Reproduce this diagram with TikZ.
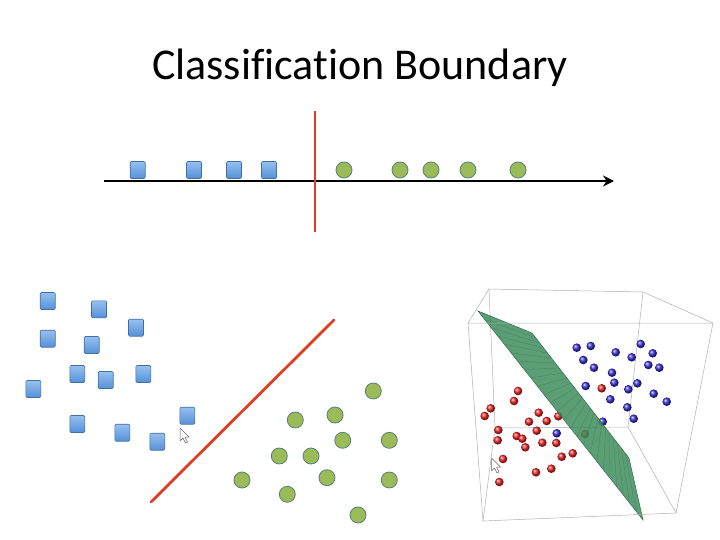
\documentclass[tikz,border=0pt]{standalone}
\usepackage{fontspec}
\setmainfont{Carlito}[Ligatures=NoCommon]
\usetikzlibrary{arrows.meta,calc}
\definecolor{sqblue}{RGB}{79,129,189}
\definecolor{sqtop}{RGB}{150,192,240}
\definecolor{sqbot}{RGB}{85,145,215}
\definecolor{dotgreen}{RGB}{155,187,89}
\definecolor{dotedge}{RGB}{88,128,118}
\definecolor{bndred}{RGB}{222,62,34}
\definecolor{boxgray}{RGB}{175,175,175}
\definecolor{planegreen}{RGB}{62,140,92}
\definecolor{ballblue}{RGB}{55,45,215}
\definecolor{ballred}{RGB}{235,35,35}

\tikzset{
  sq/.style={draw=sqblue!85!black,line width=0.6pt,rounded corners=1.2pt,
    top color=sqtop,bottom color=sqbot,minimum width=15pt,minimum height=17pt,
    inner sep=0pt},
  dot/.style={circle,draw=dotedge,line width=0.8pt,fill=dotgreen,
    minimum size=16pt,inner sep=0pt},
  bnd/.style={bndred,line width=2.8pt},
  edge3d/.style={boxgray,line width=0.5pt},
  ball/.style={circle,shading=ball,ball color=#1,minimum size=8.6pt,inner sep=0pt},
  pointer/.style={fill=white,draw=gray!80!black,line width=0.5pt,line join=round}
}

\begin{document}
\begin{tikzpicture}[x=1pt,y=-1pt]
\useasboundingbox (0,0) rectangle (720,540);

% Title
\node[font=\fontsize{44}{50}\selectfont] (title) at (360,68) {Classification Boundary};

% 1D line
\coordinate (ax-l) at (104,181);
\coordinate (ax-r) at (614,181);
\draw[line width=2.6pt,-{Stealth[length=11pt,width=11pt]}] (ax-l) -- (ax-r);
\coordinate (cut-t) at (315,111);
\coordinate (cut-b) at (315,232);
\draw[bnd,line width=2.6pt] (cut-t) -- (cut-b);
\foreach \x [count=\i] in {137.7,194,234,269}
  \node[sq] (top-sq-\i) at (\x,170) {};
\foreach \x [count=\i] in {344,400,431,468,518}
  \node[dot] (top-dot-\i) at (\x,170) {};

% 2D plane
\coordinate (cut2-a) at (151,502);
\coordinate (cut2-b) at (334,320);
\draw[bnd,line cap=round] (cut2-a) -- (cut2-b);
\foreach \p [count=\i] in {(47.7,301),(99,309.3),(136,327.7),(47.7,338.7),(91.7,345),
    (77.3,374),(105.7,380),(143.3,374),(33.3,389),(77.3,424),(122.3,432.7),
    (157.3,441.7),(187.3,415.7)}
  \node[sq] (sq-\i) at \p {};
\foreach \p [count=\i] in {(373.3,391),(295.3,420),(335,415),(342.7,440.3),(389.3,440.3),
    (279.3,456),(311,456),(327,477.7),(389.3,480),(242,480),(287.3,494.3),(358,515)}
  \node[dot] (dot-\i) at \p {};
% Mouse pointer
\draw[pointer] (180,428) -- ++(0,13) -- ++(3,-3) -- ++(2.5,5) -- ++(2,-1) -- ++(-2.5,-4.8) -- ++(4.2,0) -- cycle;

% 3D box
\coordinate (btl) at (489,289);
\coordinate (btr) at (643,292);
\coordinate (bbr) at (628,427);
\coordinate (bbl) at (495,428);
\coordinate (ftl) at (468,323);
\coordinate (ftr) at (713,323);
\coordinate (fbr) at (676,513);
\coordinate (fbl) at (483,521);
\draw[edge3d] (btl) -- (btr) -- (bbr) -- (bbl) -- cycle;
\draw[edge3d] (btl) -- (ftl) (btr) -- (ftr) (bbr) -- (fbr) (bbl) -- (fbl);

% Red class
\foreach \p [count=\i] in {(518,391),(514,401),(490.7,408.3),(484.7,416),(538.7,412.7),
    (529,421.7),(546.7,421),(558.3,416.3),(498.3,430),(497.7,440.3),(516.7,436),
    (522.3,438.7),(536.7,430.7),(525.3,447.3),(542.3,442.7),(556.3,443),(561.7,456.7),
    (572.7,453.3),(503,459),(536,472.3),(551.3,468.7),(499.3,482),(601.7,388.3),(585,434)}
  \node[ball=ballred] (red-\i) at \p {};
% Blue class
\foreach \p [count=\i] in {(576.7,347.7),(590.7,346),(615.7,352.3),(631.7,357.3),(640.7,344),
    (652.7,353.3),(583.3,360),(594,367.7),(612,372.7),(648.3,365),(659.3,367.7),
    (585.7,386),(614.3,382.7),(628.3,389.3),(637.3,383.3),(653.7,393.7),(666.7,401.7),
    (610.3,399.3),(627.3,407.3),(633.7,418.7),(602.7,421.7),(556.7,433.3)}
  \node[ball=ballblue] (blue-\i) at \p {};

% Separating plane
\coordinate (pl-a) at (478,311);
\coordinate (pl-b) at (532,333);
\coordinate (pl-c) at (629,458);
\coordinate (pl-d) at (643,520);
\fill[planegreen,fill opacity=0.85] (pl-a) -- (pl-b) -- (pl-c) -- (pl-d) -- cycle;
\foreach \t in {0.04,0.08,...,0.97}
  \draw[planegreen!60!black,line width=0.3pt,opacity=0.35]
    ($(pl-b)!\t!(pl-c)$) -- ($(pl-a)!\t!(pl-d)$);
\draw[planegreen!80!black,line width=0.5pt] (pl-a) -- (pl-b) -- (pl-c) -- (pl-d) -- cycle;

% Front box edges
\draw[edge3d] (ftl) -- (ftr) -- (fbr) -- (fbl) -- cycle;
% Mouse pointer
\draw[pointer] (491.5,458) -- ++(0,13) -- ++(3,-3) -- ++(2.5,5) -- ++(2,-1) -- ++(-2.5,-4.8) -- ++(4.2,0) -- cycle;
\end{tikzpicture}
\end{document}
